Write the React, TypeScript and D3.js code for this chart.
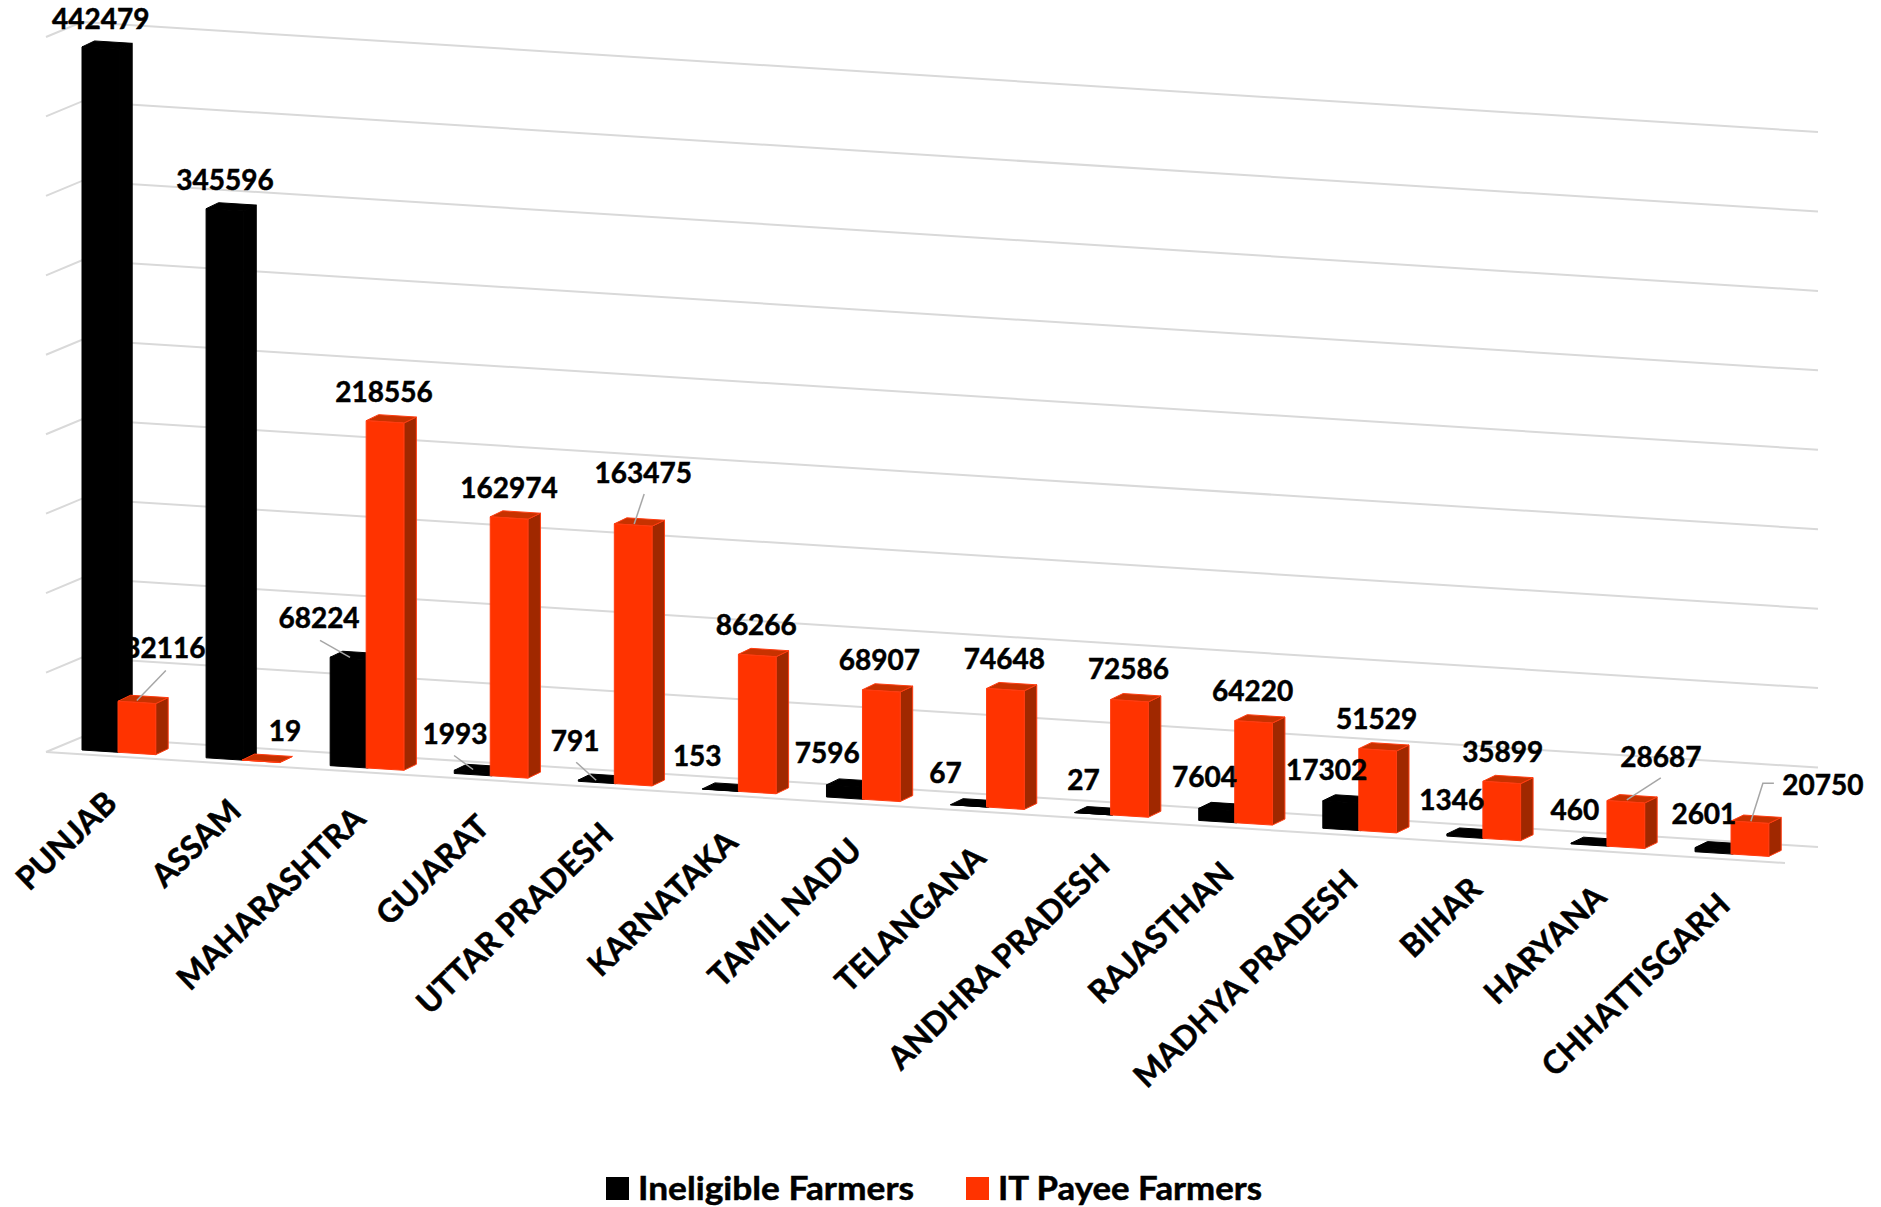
import React, { useEffect, useRef } from 'react';
import * as d3 from 'd3';

const categories = ['PUNJAB', 'ASSAM', 'MAHARASHTRA', 'GUJARAT', 'UTTAR PRADESH', 'KARNATAKA', 'TAMIL NADU', 'TELANGANA', 'ANDHRA PRADESH', 'RAJASTHAN', 'MADHYA PRADESH', 'BIHAR', 'HARYANA', 'CHHATTISGARH'];
const ineligible = [442479, 345596, 68224, 1993, 791, 153, 7596, 67, 27, 7604, 17302, 1346, 460, 2601];
const itPayee = [32116, 19, 218556, 162974, 163475, 86266, 68907, 74648, 72586, 64220, 51529, 35899, 28687, 20750];
const yTicks = [0, 50000, 100000, 150000, 200000, 250000, 300000, 350000, 400000, 450000];
const legendLabels = ['Ineligible Farmers', 'IT Payee Farmers'];

// hand placed label offsets, from the middle of the bar's top front edge
const ineligibleLabelOffsets = [[0, -19], [0, -20], [-30, -30], [-18, -27], [-22, -30], [-24, -24], [-18, -23], [-24, -23], [-10, -24], [-13, -23], [-15, -22], [-14, -25], [-15, -24], [-10, -25]];
const payeeLabelOffsets = [[28, -44], [24, -20], [-1, -20], [0, -20], [10, -42], [-1, -21], [-2, -21], [-1, -21], [-1, -22], [-1, -21], [-1, -21], [1, -21], [35, -35], [73, -27]];

// leader lines, same reference point as the labels
const ineligibleLeaders: Record<string, number[][]> = {
  MAHARASHTRA: [[-29, -18], [1, -1]],
  GUJARAT: [[-19, -16], [0, -2]],
  'UTTAR PRADESH': [[-21, -19], [-1, -1]],
};
const payeeLeaders: Record<string, number[][]> = {
  PUNJAB: [[29, -32], [0, -2]],
  'UTTAR PRADESH': [[11, -31], [1, -1]],
  HARYANA: [[35, -24], [1, -2]],
  CHHATTISGARH: [[24, -39], [13, -39], [1, -1]],
};

const App = () => {
  const ref = useRef<SVGSVGElement>(null);

  useEffect(() => {
    const svg = d3.select(ref.current);
    svg.selectAll('*').remove();

    const font = 'Lato, sans-serif';
    const barWidth = 37.7;
    const depthX = 12.5;
    const depthY = -6;

    const x = d3.scaleBand<string>().domain(categories).range([82, 82 + 14 * 124.08]);
    const height = d3.scaleLinear().domain([0, 450000]).range([0, 715]);
    // the floor runs downhill to the right
    const baseY = d3.scaleLinear().domain([82, 1769]).range([750, 856.4]);
    const backY = d3.scaleLinear().domain([82, 1818]).range([737, 847]);
    const frontY = d3.scaleLinear().domain([46, 1785]).range([752, 863]);

    const path = d3.line();

    // gridlines with their left wall part
    const grid = svg.append('g').attr('fill', 'none').attr('stroke', '#d9d9d9').attr('stroke-width', 2);
    yTicks.forEach(t => {
      const h = height(t);
      grid.append('path').attr('d', path([
        [46, 752 - h],
        [82, backY(82) - h],
        [1818, backY(1818) - h],
      ]));
    });
    grid.append('path').attr('d', path([[46, frontY(46)], [1785, frontY(1785)]]));

    const drawBar = (left: number, value: number, front: string, side: string, top: string, edge: string) => {
      const right = left + barWidth;
      const h = height(value);
      const bl: [number, number] = [left, baseY(left)];
      const br: [number, number] = [right, baseY(right)];
      const tl: [number, number] = [left, baseY(left) - h];
      const tr: [number, number] = [right, baseY(right) - h];
      const g = svg.append('g').attr('stroke', edge).attr('stroke-width', 1).attr('stroke-linejoin', 'round');
      g.append('path').attr('fill', side).attr('d', path([br, tr, [tr[0] + depthX, tr[1] + depthY], [br[0] + depthX, br[1] + depthY]]) + 'Z');
      g.append('path').attr('fill', top).attr('d', path([tl, tr, [tr[0] + depthX, tr[1] + depthY], [tl[0] + depthX, tl[1] + depthY]]) + 'Z');
      g.append('path').attr('fill', front).attr('d', path([bl, br, tr, tl]) + 'Z');
    };

    categories.forEach((c, i) => {
      const left = x(c) || 0;
      drawBar(left, ineligible[i], '#000000', '#000000', '#000000', '#000000');
      drawBar(left + 36, itPayee[i], '#ff3300', '#a02800', '#c83200', '#ff3c10');
    });

    // value labels and their leaders go on top of every bar
    const drawLabels = (values: number[], offsets: number[][], leaders: Record<string, number[][]>, shift: number) => {
      categories.forEach((c, i) => {
        const cx = (x(c) || 0) + shift + barWidth / 2;
        const topY = baseY(cx) - height(values[i]);
        const leader = leaders[c];
        if (leader) {
          svg.append('path')
            .attr('fill', 'none')
            .attr('stroke', '#a6a6a6')
            .attr('stroke-width', 1.5)
            .attr('d', path(leader.map(p => [cx + p[0], topY + p[1]] as [number, number])));
        }
        svg.append('text')
          .attr('x', cx + offsets[i][0])
          .attr('y', topY + offsets[i][1])
          .attr('text-anchor', 'middle')
          .attr('font-family', font)
          .attr('font-weight', 700)
          .attr('font-size', 28)
          .attr('fill', '#000')
          .attr('stroke', '#000')
          .attr('stroke-width', 0.5)
          .text(values[i]);
      });
    };
    drawLabels(ineligible, ineligibleLabelOffsets, ineligibleLeaders, 0);
    drawLabels(itPayee, payeeLabelOffsets, payeeLeaders, 36);

    // category labels
    categories.forEach(c => {
      const px = (x(c) || 0) + 37;
      const py = baseY(px) + 53;
      svg.append('text')
        .attr('transform', `translate(${px},${py}) rotate(-44)`)
        .attr('text-anchor', 'end')
        .attr('font-family', font)
        .attr('font-weight', 700)
        .attr('font-size', 32)
        .attr('fill', '#000')
        .attr('stroke', '#000')
        .attr('stroke-width', 0.5)
        .text(c);
    });

    // legend
    const legendX = [606, 966];
    const legendColors = ['#000000', '#ff3300'];
    const legendWidths = [276, 264];
    legendLabels.forEach((label, i) => {
      svg.append('rect')
        .attr('x', legendX[i]).attr('y', 1177)
        .attr('width', 23).attr('height', 23)
        .attr('fill', legendColors[i]);
      svg.append('text')
        .attr('x', legendX[i] + 32).attr('y', 1200)
        .attr('font-family', font)
        .attr('font-weight', 700)
        .attr('font-size', 33)
        .attr('textLength', legendWidths[i])
        .attr('lengthAdjust', 'spacingAndGlyphs')
        .attr('fill', '#000')
        .attr('stroke', '#000')
        .attr('stroke-width', 0.5)
        .text(label);
    });
  }, []);

  return <svg ref={ref} width={1881} height={1207} style={{ position: 'absolute', left: 0, top: 0, display: 'block' }} />;
};

export default App;
